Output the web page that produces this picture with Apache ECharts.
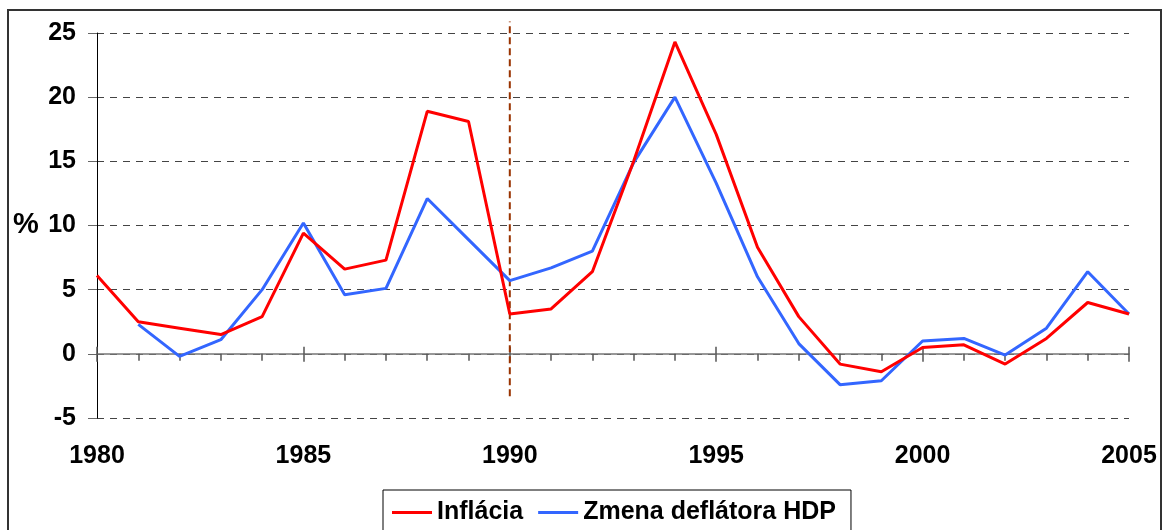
<!DOCTYPE html>
<html>
<head>
<meta charset="utf-8">
<title>Inflácia a deflátor HDP</title>
<script src="https://cdn.jsdelivr.net/npm/echarts@6/dist/echarts.min.js"></script>
<style>
    html, body { margin: 0; padding: 0; background: #fff; }
    #chart { width: 1164px; height: 530px; }
</style>
</head>
<body>
<div id="chart"></div>
<script>
    // roky 1980 - 2005
    var years = [1980, 1981, 1982, 1983, 1984, 1985, 1986, 1987, 1988, 1989,
                 1990, 1991, 1992, 1993, 1994, 1995, 1996, 1997, 1998, 1999,
                 2000, 2001, 2002, 2003, 2004, 2005];
    // inflacia (%)
    var inflacia = [6.1, 2.5, 2.0, 1.5, 2.9, 9.4, 6.6, 7.3, 18.9, 18.1,
                    3.1, 3.5, 6.4, 15.0, 24.3, 17.1, 8.3, 2.9, -0.8, -1.4,
                    0.5, 0.7, -0.8, 1.2, 4.0, 3.1];
    // zmena deflatora HDP (%), 1980 chyba
    var deflator = [null, 2.3, -0.2, 1.1, 5.0, 10.2, 4.6, 5.1, 12.1, 8.9,
                    5.7, 6.7, 8.0, 14.9, 20.0, 13.3, 6.0, 0.8, -2.4, -2.1,
                    1.0, 1.2, -0.1, 2.0, 6.4, 3.1];
    // zvisla deliaca ciara v roku 1990
    var dividerYear = [1990];
    var dividerRange = [-3.3, 25.9];

    var font = "'Liberation Sans', Arial, sans-serif";

    function pairs(vals) {
        var out = [];
        for (var i = 0; i < years.length; i++) {
            if (vals[i] !== null) out.push([years[i], vals[i]]);
        }
        return out;
    }

    var chart = echarts.init(document.getElementById('chart'));
    var option = {
        animation: false,
        backgroundColor: '#fff',
        grid: {
            left: 97,
            right: 35,
            top: 33,
            height: 385
        },
        legend: {
            data: [
                { name: 'Inflácia', icon: 'rect' },
                { name: 'Zmena deflátora HDP', icon: 'rect' }
            ],
            left: 383,
            top: 490,
            itemWidth: 40,
            itemHeight: 3,
            itemGap: 15,
            padding: [10, 15, 20, 9],
            borderColor: '#000',
            borderWidth: 1,
            textStyle: {
                fontFamily: font,
                fontWeight: 'bold',
                fontSize: 25,
                color: '#000'
            }
        },
        xAxis: [
            {
                type: 'value',
                min: 1980,
                max: 2005,
                interval: 5,
                position: 'bottom',
                axisLine: {
                    show: true,
                    onZero: true,
                    onZeroAxisIndex: 0,
                    lineStyle: { color: '#777', width: 1.5 }
                },
                axisTick: { show: true, length: 8, lineStyle: { color: '#555', width: 1.5 } },
                minorTick: { show: true, splitNumber: 5, length: 7, lineStyle: { color: '#555', width: 1.5 } },
                axisLabel: {
                    margin: 26,
                    fontFamily: font,
                    fontWeight: 'bold',
                    fontSize: 25,
                    color: '#000',
                    formatter: function (v) { return String(v); }
                },
                splitLine: { show: false },
                minorSplitLine: { show: false }
            },
            {
                // horna cast velkych ciarok (krizia os)
                type: 'value',
                min: 1980,
                max: 2005,
                interval: 5,
                position: 'top',
                axisLine: { show: false, onZero: true, onZeroAxisIndex: 0 },
                axisTick: { show: true, length: 7, lineStyle: { color: '#555', width: 1.5 } },
                axisLabel: { show: false },
                splitLine: { show: false }
            }
        ],
        yAxis: {
            type: 'value',
            min: -5,
            max: 25,
            interval: 5,
            axisLine: { show: true, onZero: false, lineStyle: { color: '#000', width: 1 } },
            axisTick: { show: true, length: 9, lineStyle: { color: '#666' } },
            axisLabel: {
                margin: 21,
                fontFamily: font,
                fontWeight: 'bold',
                fontSize: 25,
                color: '#000'
            },
            splitLine: {
                show: true,
                lineStyle: { color: '#444', type: [7, 6], width: 1.2 }
            }
        },
        graphic: [
            {
                type: 'rect',
                shape: { x: 8, y: 10, width: 1153, height: 540 },
                style: { fill: 'none', stroke: '#333', lineWidth: 2 },
                silent: true
            },
            {
                type: 'text',
                left: 13,
                top: 210,
                style: {
                    text: '%',
                    font: 'bold 29px ' + font,
                    fill: '#000'
                }
            }
        ],
        series: [
            {
                name: 'divider',
                type: 'custom',
                silent: true,
                z: 1,
                data: [[dividerYear[0], dividerRange[0], dividerRange[1]]],
                renderItem: function (params, api) {
                    var p1 = api.coord([api.value(0), api.value(1)]);
                    var p2 = api.coord([api.value(0), api.value(2)]);
                    return {
                        type: 'line',
                        shape: { x1: p1[0], y1: p1[1], x2: p2[0], y2: p2[1] },
                        style: { stroke: '#993300', lineWidth: 2, lineDash: [7, 4] }
                    };
                }
            },
            {
                name: 'Inflácia',
                type: 'line',
                symbol: 'none',
                z: 3,
                color: '#ff0000',
                lineStyle: { color: '#ff0000', width: 3 },
                data: pairs(inflacia)
            },
            {
                name: 'Zmena deflátora HDP',
                type: 'line',
                symbol: 'none',
                z: 2,
                color: '#3366ff',
                lineStyle: { color: '#3366ff', width: 3 },
                data: pairs(deflator)
            }
        ]
    };
    chart.setOption(option);
</script>
</body>
</html>
